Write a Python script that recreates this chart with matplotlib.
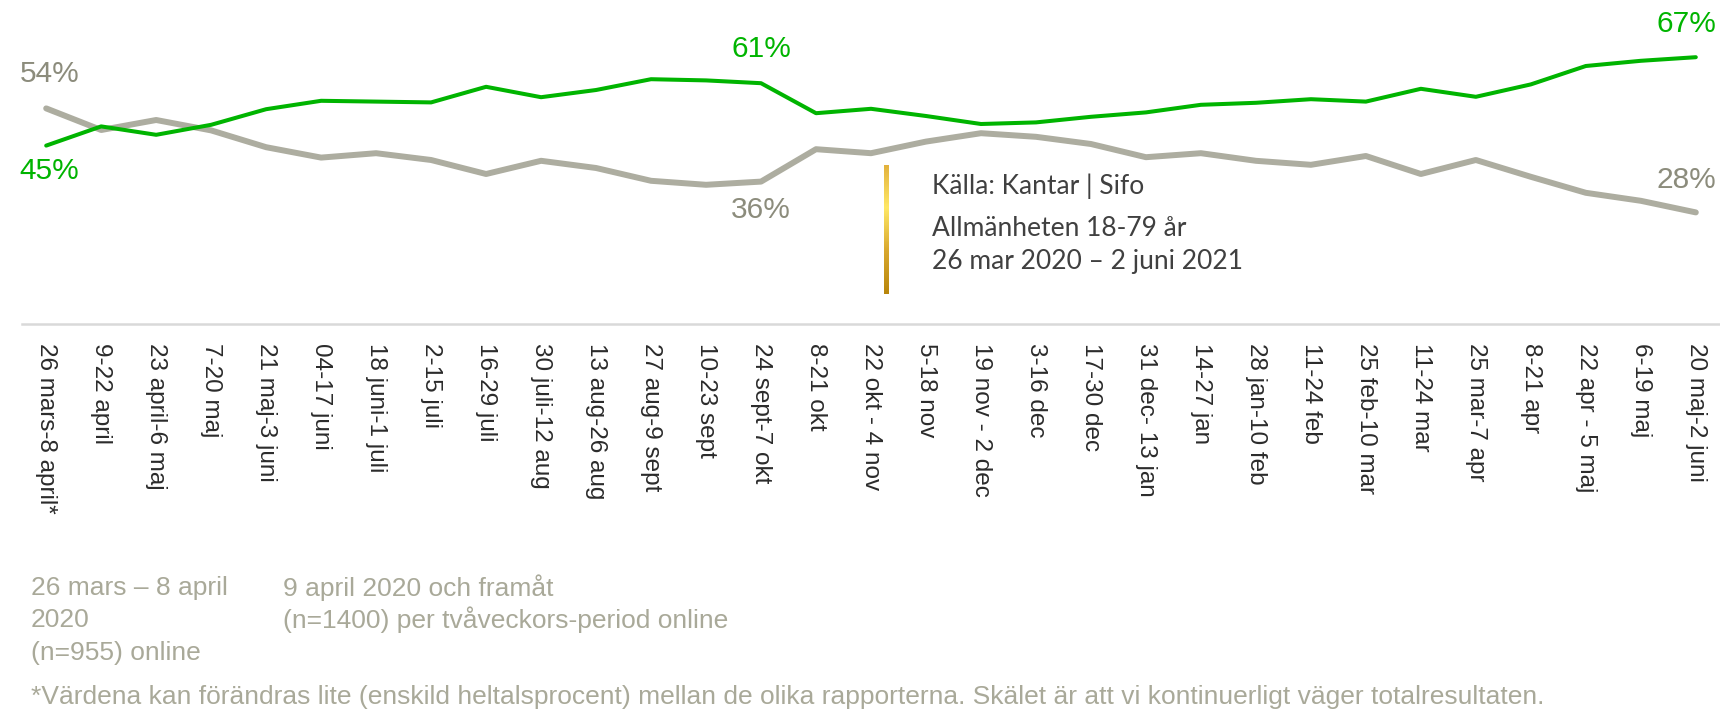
import numpy as np
import matplotlib
matplotlib.use('Agg')
import matplotlib.pyplot as plt
from matplotlib.colors import LinearSegmentedColormap

periods = ['26 mars-8 april*', '9-22 april', '23 april-6 maj', '7-20 maj', '21 maj-3 juni',
           '04-17 juni', '18 juni-1 juli', '2-15 juli', '16-29 juli', '30 juli-12 aug',
           '13 aug-26 aug', '27 aug-9 sept', '10-23 sept', '24 sept-7 okt', '8-21 okt',
           '22 okt - 4 nov', '5-18 nov', '19 nov - 2 dec', '3-16 dec', '17-30 dec',
           '31 dec- 13 jan', '14-27 jan', '28 jan-10 feb', '11-24 feb', '25 feb-10 mar',
           '11-24 mar', '25 mar-7 apr', '8-21 apr', '22 apr - 5 maj', '6-19 maj', '20 maj-2 juni']
green_vals = [45.0, 49.8, 47.7, 50.2, 54.1, 56.2, 56.0, 55.8, 59.7, 57.1,
              58.9, 61.6, 61.3, 60.6, 53.1, 54.2, 52.4, 50.4, 50.8, 52.2,
              53.3, 55.2, 55.7, 56.6, 56.0, 59.2, 57.2, 60.3, 64.9, 66.2, 67.1]
gray_vals = [54.3, 48.9, 51.4, 48.8, 44.6, 42.0, 43.1, 41.4, 37.9, 41.2,
             39.4, 36.2, 35.2, 36.0, 44.1, 43.1, 46.0, 48.1, 47.2, 45.4,
             42.1, 43.1, 41.2, 40.2, 42.4, 37.9, 41.4, 37.2, 33.2, 31.2, 28.3]

GREEN = '#00b400'
GRAY = '#adada0'
GRAY_TXT = '#8c8c7c'
NOTE_GRAY = '#a9a999'

fig = plt.figure(figsize=(17.2, 7.11), dpi=100)
ax = fig.add_axes([22 / 1720, 1 - 324 / 711, 1 - 22 / 1720, 324 / 711])
x = np.arange(len(periods))
ax.plot(x, gray_vals, color=GRAY, lw=4.3, solid_capstyle='round', zorder=2)
ax.plot(x, green_vals, color=GREEN, lw=2.9, solid_capstyle='round', zorder=3)
ax.set_xlim(-0.44, len(periods) - 1 + 0.44)
ax.set_ylim(0.4, 81.4)

for s in ['top', 'right', 'left']:
    ax.spines[s].set_visible(False)
ax.spines['bottom'].set_color('#d9d9d9')
ax.spines['bottom'].set_linewidth(1.8)
ax.set_yticks([])
ax.set_xticks(x)
ax.set_xticklabels(periods, rotation=-90, fontsize=17.5, family='Liberation Sans',
                   color='#2b2b2b', ha='center', va='top')
ax.tick_params(axis='x', length=0, pad=14)

lbl = dict(textcoords='offset pixels', ha='center', va='center', fontsize=21.5,
           family='Liberation Sans')
ax.annotate('54%', (0, gray_vals[0]), xytext=(3, 34), color=GRAY_TXT, **lbl)
ax.annotate('45%', (0, green_vals[0]), xytext=(3, -25), color=GREEN, **lbl)
ax.annotate('61%', (13, green_vals[13]), xytext=(0, 34), color=GREEN, **lbl)
ax.annotate('36%', (13, gray_vals[13]), xytext=(0, -28), color=GRAY_TXT, **lbl)
ax.annotate('67%', (30, green_vals[-1]), xytext=(-9, 33), color=GREEN, **lbl)
ax.annotate('28%', (30, gray_vals[-1]), xytext=(-9, 32), color=GRAY_TXT, **lbl)

# gold bar next to the source text
bar = fig.add_axes([884 / 1720, 1 - 294 / 711, 5 / 1720, 129 / 711])
gold = LinearSegmentedColormap.from_list('gold', ['#e2b13c', '#ffe866', '#d9a82e', '#b8860b'])
bar.imshow(np.linspace(0, 1, 100).reshape(-1, 1), aspect='auto', cmap=gold)
bar.axis('off')

src = dict(fontsize=19, family='Lato', color='#404040', va='center', ha='left')
fig.text(932 / 1720, 1 - 186 / 711, 'Källa: Kantar | Sifo', **src)
fig.text(932 / 1720, 1 - 229 / 711, 'Allmänheten 18-79 år', **src)
fig.text(932 / 1720, 1 - 262 / 711, '26 mar 2020 – 2 juni 2021', **src)

note = dict(fontsize=19, family='Liberation Sans', color=NOTE_GRAY, va='center', ha='left')
fig.text(31 / 1720, 1 - 588 / 711, '26 mars – 8 april', **note)
fig.text(31 / 1720, 1 - 620 / 711, '2020', **note)
fig.text(31 / 1720, 1 - 653 / 711, '(n=955) online', **note)
fig.text(283 / 1720, 1 - 588 / 711, '9 april 2020 och framåt', **note)
fig.text(283 / 1720, 1 - 620 / 711, '(n=1400) per tvåveckors-period online', **note)
fig.text(31 / 1720, 1 - 697 / 711,
         '*Värdena kan förändras lite (enskild heltalsprocent) mellan de olika rapporterna. '
         'Skälet är att vi kontinuerligt väger totalresultaten.', **note)

fig.savefig('out.png', dpi=100)
